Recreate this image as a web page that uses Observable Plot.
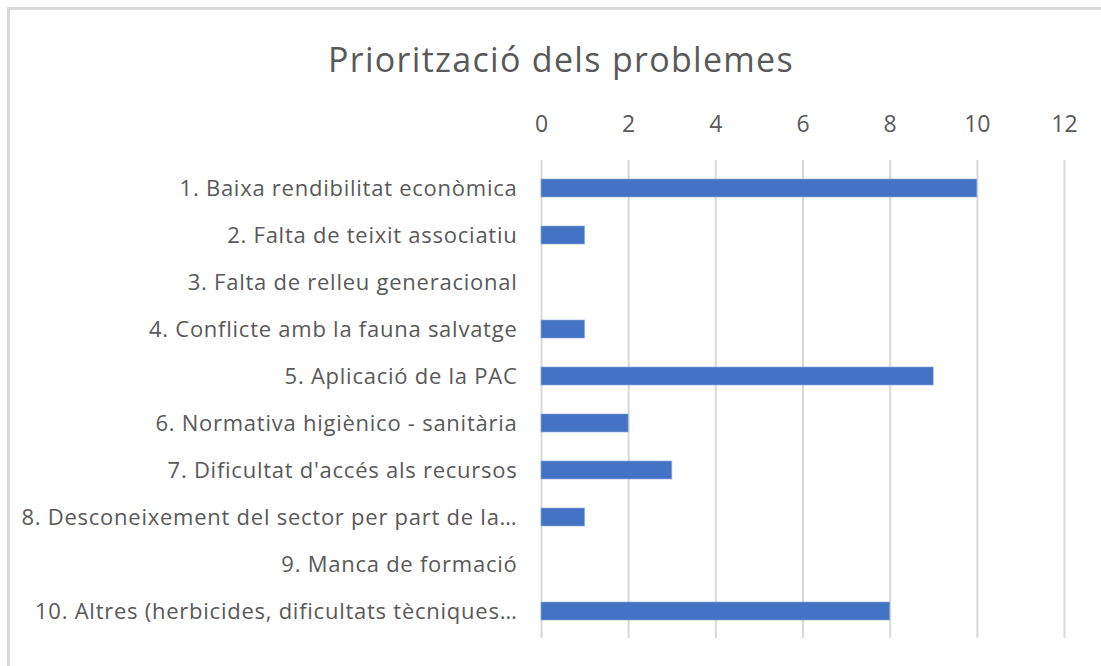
<!DOCTYPE html>
<html>
<head>
<meta charset="utf-8">
<script src="https://cdn.jsdelivr.net/npm/d3@7"></script>
<script src="https://cdn.jsdelivr.net/npm/@observablehq/plot@0.6"></script>
<style>
  html, body { margin: 0; padding: 0; background: #fff; }
  #wrap { position: relative; width: 1101px; height: 666px; overflow: hidden; background: #fff; font-family: "Open Sans", sans-serif; }
  #frame { position: absolute; left: 7px; top: 7px; width: 1200px; height: 800px; border-top: 3px solid #d9d9d9; border-left: 3px solid #d9d9d9; box-sizing: border-box; }
  #title { position: absolute; left: 0; width: 1122px; top: 36px; text-align: center; font-size: 34px; line-height: normal; letter-spacing: 1.3px; color: #595959; font-family: "Open Sans", sans-serif; white-space: nowrap; }
  #chart { position: absolute; left: 0; top: 0; }
  #chart g[aria-label="y-axis tick label"] text { letter-spacing: 0.75px; }
</style>
</head>
<body>
<div id="wrap">
  <div id="frame"></div>
  <div id="title">Priorització dels problemes</div>
  <div id="chart"></div>
</div>
<script>
const categories = [
  "1. Baixa rendibilitat econòmica",
  "2. Falta de teixit associatiu",
  "3. Falta de relleu generacional",
  "4. Conflicte amb la fauna salvatge",
  "5. Aplicació de la PAC",
  "6. Normativa higiènico - sanitària",
  "7. Dificultat d'accés als recursos",
  "8. Desconeixement del sector per part de la…",
  "9. Manca de formació",
  "10. Altres (herbicides, dificultats tècniques…"
];
const values = [10, 1, 0, 1, 9, 2, 3, 1, 0, 8];
const xTicks = [0, 2, 4, 6, 8, 10, 12];

const data = categories.map((c, i) => ({category: c, value: values[i]}));

const chart = Plot.plot({
  width: 1101,
  height: 666,
  marginLeft: 541,
  marginRight: 37,
  marginTop: 160,
  marginBottom: 28,
  style: {background: "transparent", color: "#595959", fontFamily: "'Open Sans', sans-serif"},
  x: {domain: [0, 12], ticks: xTicks, axis: null},
  y: {domain: categories, paddingInner: 0.62, paddingOuter: 0.31, axis: null},
  marks: [
    Plot.ruleX(xTicks, {x: d => d, stroke: "#d9d9d9", strokeWidth: 2}),
    Plot.axisX({anchor: "top", ticks: xTicks, tickSize: 0, tickPadding: 29, fontSize: 23, fill: "#595959", label: null}),
    Plot.axisY({anchor: "left", tickSize: 0, tickPadding: 24, fontSize: 22, fill: "#595959", label: null}),
    Plot.barX(data, {x: "value", y: "category", fill: "#4472C4", stroke: "#8faadc", strokeWidth: 1, strokeOpacity: 0.6})
  ]
});
document.getElementById("chart").appendChild(chart);
</script>
</body>
</html>
